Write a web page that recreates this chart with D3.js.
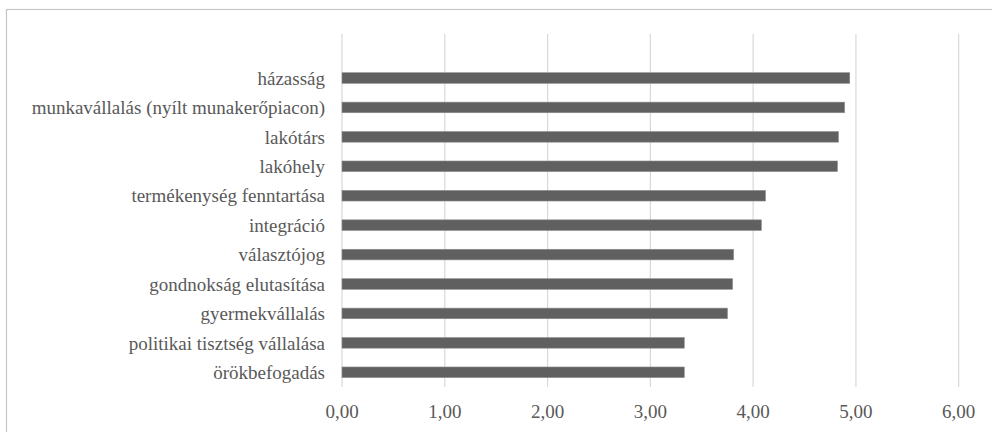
<!DOCTYPE html>
<html>
<head>
<meta charset="utf-8">
<script src="https://cdn.jsdelivr.net/npm/d3@7"></script>
<style>
html,body{margin:0;padding:0;background:#fff;}
svg{display:block;}
</style>
</head>
<body>
<svg id="chart" width="992" height="432"></svg>
<script>
const categories = [
  "házasság",
  "munkavállalás (nyílt munakerőpiacon)",
  "lakótárs",
  "lakóhely",
  "termékenység fenntartása",
  "integráció",
  "választójog",
  "gondnokság elutasítása",
  "gyermekvállalás",
  "politikai tisztség vállalása",
  "örökbefogadás"
];
const values = [4.94, 4.89, 4.83, 4.82, 4.12, 4.08, 3.81, 3.80, 3.75, 3.33, 3.33];
const tickValues = [0, 1, 2, 3, 4, 5, 6];

const svg = d3.select("#chart");
const FONT = "'Liberation Serif'";

// outer border
svg.append("rect")
  .attr("x", 6.5).attr("y", 9.5)
  .attr("width", 1000).attr("height", 500)
  .attr("fill", "#fff")
  .attr("stroke", "#c6c6c6")
  .attr("stroke-width", 1.2);

const x = d3.scaleLinear().domain([0, 6]).range([342, 958.7]);
const y = d3.scaleBand().domain(categories).range([63.3, 387])
  .paddingInner(0.64).paddingOuter(0.32);

const gridTop = 34, gridBottom = 387;

// gridlines
svg.append("g").selectAll("line").data(tickValues).join("line")
  .attr("x1", d => x(d)).attr("x2", d => x(d))
  .attr("y1", gridTop).attr("y2", gridBottom)
  .attr("stroke", "#d9d9d9").attr("stroke-width", 1.2);

// bars
svg.append("g").selectAll("rect").data(values).join("rect")
  .attr("x", x(0))
  .attr("y", (d, i) => y(categories[i]))
  .attr("width", d => x(d) - x(0))
  .attr("height", y.bandwidth())
  .attr("fill", "#606060")
  .attr("stroke", "#8a8a8a")
  .attr("stroke-width", 0.6);

// category labels
svg.append("g").selectAll("text").data(categories).join("text")
  .attr("x", x(0) - 17)
  .attr("y", d => y(d) + y.bandwidth() / 2)
  .attr("dy", "0.35em")
  .attr("text-anchor", "end")
  .style("font-family", FONT)
  .style("font-size", "19px")
  .style("fill", "#595959")
  .text(d => d);

// x axis tick labels
const fmt = d => d.toFixed(2).replace(".", ",");
svg.append("g").selectAll("text").data(tickValues).join("text")
  .attr("x", d => x(d))
  .attr("y", 417.5)
  .attr("text-anchor", "middle")
  .style("font-family", FONT)
  .style("font-size", "19px")
  .style("fill", "#595959")
  .text(fmt);
</script>
</body>
</html>
